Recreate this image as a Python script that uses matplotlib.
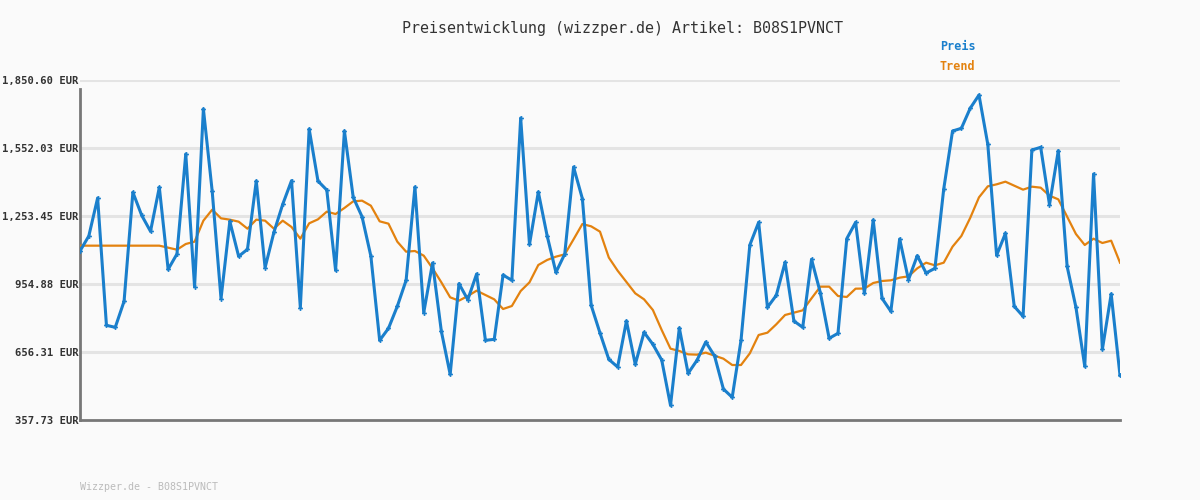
import matplotlib
matplotlib.use("AGG")
import matplotlib.pyplot as plt
import numpy as np

# price readings, one per sample
preis = [
    1099.8, 1165.6, 1332.5, 773.4, 764.6, 878.8, 1357.4, 1256.4, 1186.1, 1379.3,
    1019.3, 1086.6, 1525.7, 943.2, 1723.3, 1361.8, 890.5, 1230.0, 1076.4, 1107.1,
    1407.1, 1026.6, 1181.7, 1304.7, 1408.6, 851.0, 1635.5, 1407.1, 1367.6, 1014.9,
    1626.7, 1335.4, 1250.5, 1077.8, 707.5, 760.2, 856.8, 971.0, 1380.8, 829.0,
    1047.1, 747.0, 558.2, 956.3, 886.1, 998.8, 707.5, 711.9, 994.4, 971.0,
    1683.7, 1129.0, 1358.8, 1167.1, 1006.1, 1086.6, 1468.6, 1329.6, 861.2, 739.7,
    624.1, 590.4, 792.4, 602.1, 742.6, 690.0, 621.2, 422.1, 761.7, 562.6,
    619.7, 700.2, 638.7, 493.8, 457.3, 707.5, 1126.1, 1225.6, 852.4, 905.1,
    1050.0, 792.4, 764.6, 1063.2, 916.8, 716.3, 738.3, 1153.9, 1225.6, 913.9,
    1235.9, 891.9, 834.9, 1152.5, 973.9, 1079.3, 1003.2, 1023.7, 1372.0, 1626.7,
    1638.4, 1726.2, 1784.7, 1568.1, 1080.7, 1177.3, 856.8, 812.9, 1543.2, 1555.0,
    1303.2, 1540.3, 1032.4, 852.4, 593.4, 1437.9, 668.0, 911.0, 553.8,
]

trend = [
    1123.2, 1123.2, 1123.2, 1123.2, 1123.2, 1123.2, 1123.2, 1123.2, 1123.2, 1123.2,
    1114.4, 1105.6, 1130.5, 1140.8, 1233.0, 1281.3, 1243.2, 1237.4, 1228.6, 1197.8,
    1237.4, 1233.0, 1197.8, 1233.0, 1205.2, 1153.9, 1221.3, 1238.8, 1272.5, 1262.2,
    1288.6, 1317.8, 1320.8, 1298.8, 1230.0, 1219.8, 1140.8, 1096.8, 1099.8, 1079.3,
    1023.7, 962.2, 896.3, 881.7, 902.2, 925.6, 906.6, 887.5, 845.1, 858.3,
    924.1, 962.2, 1038.3, 1060.3, 1074.9, 1085.1, 1151.0, 1218.3, 1208.0, 1184.7,
    1071.0, 1013.4, 963.7, 913.9, 887.5, 840.7, 752.9, 670.9, 660.7, 646.1,
    644.6, 653.4, 640.2, 627.0, 599.2, 599.2, 650.4, 731.0, 741.2, 777.8,
    818.8, 829.0, 839.3, 891.9, 943.2, 943.2, 902.2, 897.8, 934.4, 935.0,
    959.2, 968.1, 971.0, 982.7, 988.5, 1023.7, 1048.5, 1036.8, 1048.5, 1118.8,
    1165.6, 1244.7, 1335.4, 1383.7, 1392.5, 1404.2, 1386.6, 1369.1, 1382.2, 1377.9,
    1342.7, 1326.6, 1250.5, 1174.4, 1126.1, 1153.9, 1134.9, 1145.1, 1048.5,
]

y_ticks = [357.73, 656.31, 954.88, 1253.45, 1552.03, 1850.60]
y_labels = ["357.73 EUR", "656.31 EUR", "954.88 EUR", "1,253.45 EUR", "1,552.03 EUR", "1,850.60 EUR"]

title = "Preisentwicklung (wizzper.de) Artikel: B08S1PVNCT"
footer = "Wizzper.de - B08S1PVNCT"

BLUE = "#1a7fcc"
ORANGE = "#e3820f"
BG = "#fafafa"
MONO = ["DejaVu Sans Mono"]

fig = plt.figure(figsize=(12, 5), dpi=100, facecolor=BG)
ax = fig.add_axes([80 / 1200, 80 / 500, 1040 / 1200, 340 / 500])
ax.set_facecolor(BG)

x = np.arange(len(preis))
ax.plot(x, trend, color=ORANGE, lw=1.6, zorder=3)
ax.plot(x, preis, color=BLUE, lw=2.2, marker="P", markersize=3.5,
        markeredgewidth=0, zorder=4)

ax.set_xlim(0, len(preis) - 1)
ax.set_ylim(y_ticks[0], y_ticks[-1])
ax.set_yticks(y_ticks)
ax.set_yticklabels(y_labels, family=MONO, fontsize=7.6, fontweight="bold", color="#333333")
ax.tick_params(axis="y", length=0, pad=1)
ax.set_xticks([])

for t in y_ticks[1:]:
    ax.axhline(t, color="#e4e4e4", lw=2.2, zorder=1)

for s in ("top", "right"):
    ax.spines[s].set_visible(False)
for s in ("left", "bottom"):
    ax.spines[s].set_color("#777777")
    ax.spines[s].set_linewidth(2)
ax.spines["left"].set_bounds(y_ticks[0], 1810)

fig.text(623 / 1200, 1 - 28 / 500, title, ha="center", va="center", family=MONO,
         fontsize=10.8, color="#333333")
fig.text(940 / 1200, 1 - 47 / 500, "Preis", ha="left", va="center", family=MONO,
         fontsize=8.5, fontweight="bold", color=BLUE)
fig.text(940 / 1200, 1 - 67 / 500, "Trend", ha="left", va="center", family=MONO,
         fontsize=8.5, fontweight="bold", color=ORANGE)
fig.text(80 / 1200, 1 - 487 / 500, footer, ha="left", va="center", family=MONO,
         fontsize=7.2, color="#bbbbbb")

fig.savefig("out.png", dpi=100, facecolor=BG)
